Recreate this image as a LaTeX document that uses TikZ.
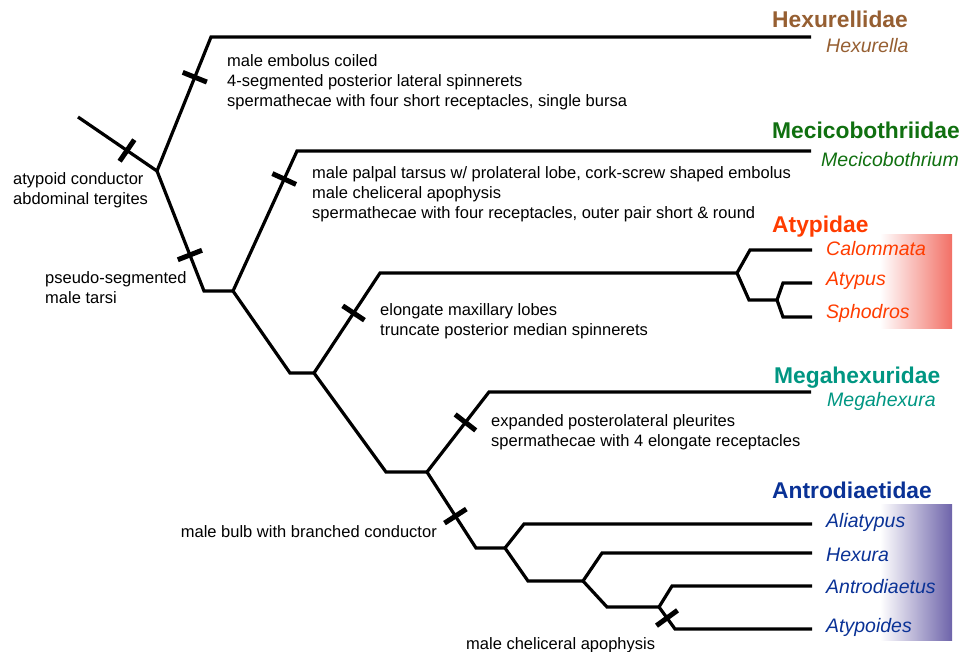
\documentclass[tikz,border=0pt]{standalone}
\usepackage{fontspec}
\setmainfont{Liberation Sans}

\definecolor{hexcol}{RGB}{150,95,50}
\definecolor{meccol}{RGB}{16,112,16}
\definecolor{atycol}{RGB}{255,60,0}
\definecolor{megcol}{RGB}{0,150,130}
\definecolor{antcol}{RGB}{10,50,150}
\definecolor{atyshade}{RGB}{242,112,102}
\definecolor{antshade}{RGB}{110,100,170}

\tikzset{
  branch/.style={line width=3.2pt},
  synapo/.style={fill=black, inner sep=0pt, minimum width=5pt, minimum height=26pt, sloped},
  charnote/.style={font=\fontsize{16.5}{20}\selectfont, align=left, inner sep=0pt, anchor=base west},
  famname/.style={font=\fontsize{22.8}{26}\selectfont\bfseries, inner sep=0pt, anchor=base west},
  genus/.style={font=\fontsize{19.5}{22}\selectfont\itshape, inner sep=0pt, anchor=base west}
}

\begin{document}
\begin{tikzpicture}[x=1pt,y=-1pt]
    \useasboundingbox (0,0) rectangle (971,651);

    % Sfumature dietro i generi
    \shade[left color=white, right color=atyshade] (880,234) rectangle (952,328);
    \shade[left color=white, right color=antshade] (880,504) rectangle (952,640);

    % Nodi dell'albero
    \coordinate (root) at (78,117);
    \coordinate (nA) at (157,171);
    \coordinate (hexK) at (211,37);  \coordinate (hexT) at (811,37);
    \coordinate (aK) at (204,291);   \coordinate (nB) at (233,291);
    \coordinate (mecK) at (297,151); \coordinate (mecT) at (811,151);
    \coordinate (bK) at (290,373);   \coordinate (nC) at (314,373);
    \coordinate (atyK) at (380,273); \coordinate (nH) at (737,273);
    \coordinate (calK) at (750,250); \coordinate (calT) at (812,250);
    \coordinate (hK) at (749,300);   \coordinate (nI) at (777,300);
    \coordinate (atpK) at (783,283); \coordinate (atpT) at (812,283);
    \coordinate (sphK) at (783,317); \coordinate (sphT) at (812,317);
    \coordinate (cK) at (386,472);   \coordinate (nD) at (427,472);
    \coordinate (megK) at (489,392); \coordinate (megT) at (811,392);
    \coordinate (dK) at (476,548);   \coordinate (nE) at (505,548);
    \coordinate (aliK) at (524,524); \coordinate (aliT) at (812,524);
    \coordinate (eK) at (528,581);   \coordinate (nF) at (583,581);
    \coordinate (hxK) at (602,553);  \coordinate (hxT) at (812,553);
    \coordinate (fK) at (607,607);   \coordinate (nG) at (659,607);
    \coordinate (antK) at (672,586); \coordinate (antT) at (812,586);
    \coordinate (atdK) at (675,629); \coordinate (atdT) at (812,629);

    % Rami (con sinapomorfie)
    \draw[branch] (root) -- node[synapo, pos=0.62] (s1) {} (nA);
    \draw[branch] (nA) -- node[synapo, pos=0.7] (s2) {} (hexK) -- (hexT);
    \draw[branch] (nA) -- node[synapo, pos=0.7] (s3) {} (aK) -- (nB);
    \draw[branch] (nB) -- node[synapo, pos=0.8] (s4) {} (mecK) -- (mecT);
    \draw[branch] (nB) -- (bK) -- (nC);
    \draw[branch] (nC) -- node[synapo, pos=0.6] (s5) {} (atyK) -- (nH);
    \draw[branch] (nH) -- (calK) -- (calT);
    \draw[branch] (nH) -- (hK) -- (nI);
    \draw[branch] (nI) -- (atpK) -- (atpT);
    \draw[branch] (nI) -- (sphK) -- (sphT);
    \draw[branch] (nC) -- (cK) -- (nD);
    \draw[branch] (nD) -- node[synapo, pos=0.62] (s6) {} (megK) -- (megT);
    \draw[branch] (nD) -- node[synapo, pos=0.58] (s7) {} (dK) -- (nE);
    \draw[branch] (nE) -- (aliK) -- (aliT);
    \draw[branch] (nE) -- (eK) -- (nF);
    \draw[branch] (nF) -- (hxK) -- (hxT);
    \draw[branch] (nF) -- (fK) -- (nG);
    \draw[branch] (nG) -- (antK) -- (antT);
    \draw[branch] (nG) -- node[synapo, pos=0.5] (s8) {} (atdK) -- (atdT);

    % Caratteri (ancorati all'ultima riga)
    \node[charnote] (hexchar) at (227,106) {male embolus coiled\\4-segmented posterior lateral spinnerets\\spermathecae with four short receptacles, single bursa};
    \node[charnote] (mecchar) at (312,218) {male palpal tarsus w/ prolateral lobe, cork-screw shaped embolus\\male cheliceral apophysis\\spermathecae with four receptacles, outer pair short \& round};
    \node[charnote] (atychar) at (380,335) {elongate maxillary lobes\\truncate posterior median spinnerets};
    \node[charnote] (megchar) at (491,446) {expanded posterolateral pleurites\\spermathecae with 4 elongate receptacles};
    \node[charnote] (rootchar) at (13,204) {atypoid conductor\\abdominal tergites};
    \node[charnote] (tarsichar) at (45,303) {pseudo-segmented\\male tarsi};
    \node[charnote, anchor=base east] (bulbchar) at (437,537) {male bulb with branched conductor};
    \node[charnote] (chelchar) at (466,649) {male cheliceral apophysis};

    % Famiglie e generi
    \node[famname, text=hexcol] (hexfam) at (772,27) {Hexurellidae};
    \node[genus, text=hexcol] (hexgen) at (826,52) {Hexurella};
    \node[famname, text=meccol] (mecfam) at (772,138) {Mecicobothriidae};
    \node[genus, text=meccol] (mecgen) at (821,166) {Mecicobothrium};
    \node[famname, text=atycol] (atyfam) at (772,232) {Atypidae};
    \node[genus, text=atycol] (calgen) at (826,255) {Calommata};
    \node[genus, text=atycol] (atpgen) at (826,285) {Atypus};
    \node[genus, text=atycol] (sphgen) at (826,318) {Sphodros};
    \node[famname, text=megcol] (megfam) at (774,383) {Megahexuridae};
    \node[genus, text=megcol] (meggen) at (827,406) {Megahexura};
    \node[famname, text=antcol] (antfam) at (772,498) {Antrodiaetidae};
    \node[genus, text=antcol] (aligen) at (826,527) {Aliatypus};
    \node[genus, text=antcol] (hxgen) at (826,561) {Hexura};
    \node[genus, text=antcol] (antgen) at (826,593) {Antrodiaetus};
    \node[genus, text=antcol] (atdgen) at (826,632) {Atypoides};
\end{tikzpicture}
\end{document}
